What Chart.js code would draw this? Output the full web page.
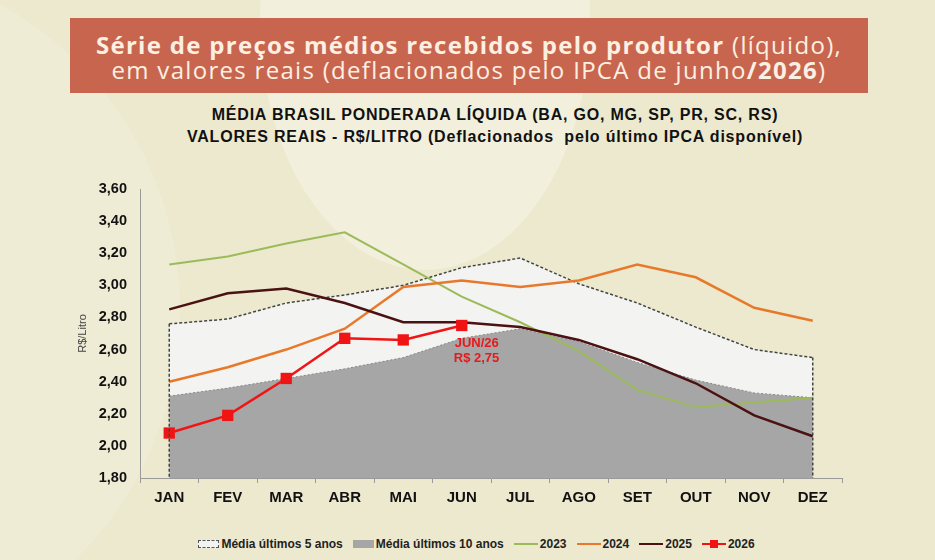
<!DOCTYPE html>
<html lang="pt-BR">
<head>
<meta charset="utf-8">
<title>Série de preços médios recebidos pelo produtor</title>
<script src="https://cdn.jsdelivr.net/npm/chart.js@4.4.1/dist/chart.umd.min.js"></script>
<style>
    html, body { margin: 0; padding: 0; }
    body {
        width: 935px;
        height: 560px;
        overflow: hidden;
        position: relative;
        background: #ece9cf;
        font-family: 'Liberation Sans', Arial, sans-serif;
    }
    .bg-shape {
        position: absolute;
        border-radius: 50%;
        background: #f2efdc;
    }
    .banner {
        position: absolute;
        left: 70px;
        top: 18px;
        width: 798px;
        height: 75px;
        background: #c8654f;
        color: #fcf0e2;
        font-family: 'Open Sans', 'Noto Sans', sans-serif;
        font-size: 24px;
        line-height: 25px;
        letter-spacing: 1.3px;
        text-align: center;
        padding-top: 14px;
        box-sizing: border-box;
        white-space: nowrap;
    }
    .banner b { font-weight: 700; }
    .chart-title {
        position: absolute;
        left: 0;
        top: 104px;
        width: 990px;
        text-align: center;
        font-weight: bold;
        font-size: 16px;
        letter-spacing: 0.8px;
        line-height: 22px;
        color: #111;
        white-space: nowrap;
    }
    #wrap {
        position: absolute;
        left: 0;
        top: 100px;
        width: 935px;
        height: 430px;
    }
    .legend {
        position: absolute;
        left: 0;
        top: 537px;
        width: 953px;
        display: flex;
        justify-content: center;
        align-items: center;
        font-size: 12px;
        font-weight: bold;
        color: #222;
        white-space: nowrap;
    }
    .legend .item { display: flex; align-items: center; margin: 0 5px; }
    .legend .icon { display: inline-block; margin-right: 2px; position: relative; }
    .icon.box5 { width: 19px; height: 6px; background: #f3f3f1; border: 1px dashed #555; }
    .icon.box10 { width: 21px; height: 8px; background: #a6a6a6; }
    .icon.line { width: 24px; height: 2.5px; }
    .icon.sq::after {
        content: '';
        position: absolute;
        left: 8px;
        top: -3px;
        width: 8px;
        height: 8px;
        background: #f01414;
    }
</style>
</head>
<body>
<div class="bg-shape" style="left:260px; top:-230px; width:330px; height:500px;"></div>
<div class="bg-shape" style="left:-520px; top:-40px; width:700px; height:700px; background:#efecd6;"></div>

<div class="banner">
    <b>Série de preços médios recebidos pelo produtor</b> (líquido),<br>
    em valores reais (deflacionados pelo IPCA de junho<b>/2026</b>)
</div>

<div class="chart-title">
    MÉDIA BRASIL PONDERADA LÍQUIDA (BA, GO, MG, SP, PR, SC, RS)<br>
    VALORES REAIS - R$/LITRO (Deflacionados&nbsp; pelo último IPCA disponível)
</div>

<div id="wrap"><canvas id="chart"></canvas></div>

<div class="legend">
    <div class="item"><span class="icon box5"></span>Média últimos 5 anos</div>
    <div class="item"><span class="icon box10"></span>Média últimos 10 anos</div>
    <div class="item"><span class="icon line" style="background:#9bbb59"></span>2023</div>
    <div class="item"><span class="icon line" style="background:#e8792a"></span>2024</div>
    <div class="item"><span class="icon line" style="background:#4a1212"></span>2025</div>
    <div class="item"><span class="icon line sq" style="background:#f01414"></span>2026</div>
</div>

<script>
const meses = ['JAN', 'FEV', 'MAR', 'ABR', 'MAI', 'JUN', 'JUL', 'AGO', 'SET', 'OUT', 'NOV', 'DEZ'];
const media5Anos = [2.76, 2.79, 2.89, 2.94, 3.00, 3.11, 3.17, 3.01, 2.89, 2.74, 2.60, 2.55];
const media10Anos = [2.31, 2.36, 2.42, 2.48, 2.55, 2.67, 2.73, 2.65, 2.52, 2.41, 2.33, 2.30];
const serie2023 = [3.13, 3.18, 3.26, 3.33, 3.13, 2.93, 2.77, 2.59, 2.35, 2.24, 2.27, 2.30];
const serie2024 = [2.40, 2.49, 2.60, 2.73, 2.99, 3.03, 2.99, 3.03, 3.13, 3.05, 2.86, 2.78];
const serie2025 = [2.85, 2.95, 2.98, 2.89, 2.77, 2.77, 2.74, 2.66, 2.54, 2.39, 2.19, 2.06];
const serie2026 = [2.08, 2.19, 2.42, 2.67, 2.66, 2.75];
const yTicks = [1.8, 2.0, 2.2, 2.4, 2.6, 2.8, 3.0, 3.2, 3.4, 3.6];
const destaque = ['JUN/26', 'R$ 2,75'];

const FONT = "'Liberation Sans', Arial, sans-serif";
const fmt = (v) => v.toFixed(2).replace('.', ',');

// bordas verticais tracejadas da área dos 5 anos
const bordaArea = {
    id: 'bordaArea',
    afterDatasetsDraw(chart) {
        const meta = chart.getDatasetMeta(0);
        const yScale = chart.scales.y;
        const ctx = chart.ctx;
        const first = meta.data[0];
        const last = meta.data[meta.data.length - 1];
        ctx.save();
        ctx.strokeStyle = '#444';
        ctx.lineWidth = 1.5;
        ctx.setLineDash([3, 2]);
        ctx.beginPath();
        ctx.moveTo(first.x, first.y);
        ctx.lineTo(first.x, yScale.bottom);
        ctx.moveTo(last.x, last.y);
        ctx.lineTo(last.x, yScale.bottom);
        ctx.stroke();
        ctx.restore();
    }
};

// rótulo do último ponto de 2026
const rotuloJun = {
    id: 'rotuloJun',
    afterDatasetsDraw(chart) {
        const meta = chart.getDatasetMeta(5);
        const pt = meta.data[meta.data.length - 1];
        const ctx = chart.ctx;
        ctx.save();
        ctx.fillStyle = '#e8191b';
        ctx.font = 'bold 13px ' + FONT;
        ctx.textAlign = 'left';
        ctx.textBaseline = 'middle';
        ctx.fillText(destaque[0], pt.x - 7, pt.y + 18);
        ctx.fillText(destaque[1], pt.x - 8, pt.y + 33);
        ctx.restore();
    }
};

new Chart(document.getElementById('chart'), {
    type: 'line',
    data: {
        labels: meses,
        datasets: [
            {
                label: 'Média últimos 5 anos',
                data: media5Anos,
                fill: 'origin',
                backgroundColor: '#f3f3f1',
                borderColor: '#444',
                borderWidth: 1.5,
                borderDash: [3, 2],
                pointRadius: 0,
                order: 5
            },
            {
                label: 'Média últimos 10 anos',
                data: media10Anos,
                fill: 'origin',
                backgroundColor: '#a6a6a6',
                borderColor: '#8a8a8a',
                borderWidth: 1,
                borderDash: [2, 2],
                pointRadius: 0,
                order: 4
            },
            {
                label: '2023',
                data: serie2023,
                borderColor: '#9bbb59',
                borderWidth: 2,
                pointRadius: 0,
                order: 3
            },
            {
                label: '2024',
                data: serie2024,
                borderColor: '#e8792a',
                borderWidth: 2.5,
                pointRadius: 0,
                order: 2
            },
            {
                label: '2025',
                data: serie2025,
                borderColor: '#4a1212',
                borderWidth: 2.5,
                pointRadius: 0,
                order: 1
            },
            {
                label: '2026',
                data: serie2026,
                borderColor: '#f01414',
                backgroundColor: '#f01414',
                borderWidth: 2.5,
                pointStyle: 'rect',
                pointRadius: 8,
                pointBorderWidth: 0,
                order: 0
            }
        ]
    },
    options: {
        responsive: true,
        maintainAspectRatio: false,
        animation: false,
        layout: {
            padding: { top: 89, right: 93, bottom: 22, left: 72 }
        },
        plugins: {
            legend: { display: false },
            title: { display: false },
            tooltip: { enabled: false }
        },
        elements: {
            line: { tension: 0 }
        },
        scales: {
            x: {
                offset: true,
                afterFit: (scale) => { scale.height = 30; },
                grid: {
                    offset: true,
                    drawOnChartArea: false,
                    drawTicks: true,
                    tickLength: 5,
                    color: '#9a9a9a'
                },
                border: { display: true, color: '#9a9a9a', width: 1 },
                ticks: {
                    padding: 6,
                    color: '#111',
                    font: { family: FONT, size: 15, weight: 'bold' }
                }
            },
            y: {
                min: 1.8,
                max: 3.6,
                afterFit: (scale) => { scale.width = 68; },
                afterBuildTicks: (scale) => { scale.ticks = yTicks.map(v => ({ value: v })); },
                grid: { display: false, drawTicks: false },
                border: { display: true, color: '#9a9a9a', width: 1 },
                title: {
                    display: true,
                    text: 'R$/Litro',
                    color: '#444',
                    font: { family: FONT, size: 11 },
                    padding: { top: 4, bottom: 0 }
                },
                ticks: {
                    padding: 13,
                    color: '#111',
                    font: { family: FONT, size: 14.5, weight: 'bold' },
                    callback: (v) => fmt(v)
                }
            }
        }
    },
    plugins: [bordaArea, rotuloJun]
});
</script>
</body>
</html>
